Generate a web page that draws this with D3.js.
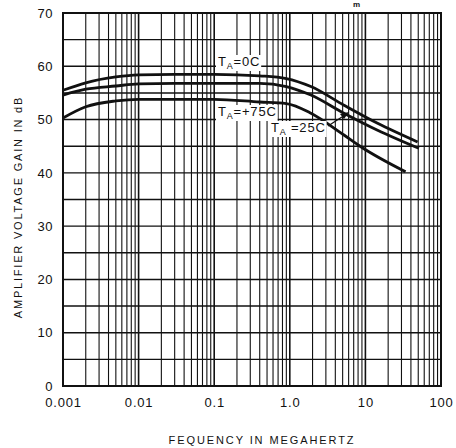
<!DOCTYPE html>
<html>
<head>
<meta charset="utf-8">
<script src="https://cdn.jsdelivr.net/npm/d3@7"></script>
<style>
  body { margin: 0; background: #fff; }
  svg { display: block; }
  text { font-family: "Liberation Sans", Arial, sans-serif; fill: #111; }
</style>
</head>
<body>
<svg width="456" height="448"></svg>
<script>
// frequency in MHz, gain in dB
const freq0C  = [0.001, 0.002, 0.005, 0.01, 0.03, 0.1, 0.4, 0.9, 1.9, 5.2, 14.5, 49];
const gain0C  = [55.5, 56.9, 58.0, 58.4, 58.5, 58.5, 58.2, 57.7, 56.2, 52.7, 49.3, 45.8];
const freq25C = [0.001, 0.002, 0.005, 0.01, 0.03, 0.1, 0.4, 0.9, 1.9, 5.2, 14.5, 51];
const gain25C = [54.6, 55.7, 56.3, 56.7, 56.8, 56.8, 56.8, 56.2, 54.6, 51.2, 48.0, 44.6];
const freq75C = [0.001, 0.002, 0.005, 0.01, 0.03, 0.1, 0.4, 0.9, 1.9, 5.2, 8.7, 34];
const gain75C = [50.3, 52.4, 53.5, 53.8, 53.8, 53.8, 53.3, 53.0, 51.2, 47.1, 44.9, 40.2];

const xTicks = [0.001, 0.01, 0.1, 1, 10, 100];
const xTickLabels = ["0.001", "0.01", "0.1", "1.0", "10", "100"];
const yTicks = [0, 10, 20, 30, 40, 50, 60, 70];

const svg = d3.select("svg");
const margin = {top: 13, right: 15, bottom: 62, left: 63},
      width = 456 - margin.left - margin.right,
      height = 448 - margin.top - margin.bottom;

const g = svg.append("g")
    .attr("transform", `translate(${margin.left},${margin.top})`);

const x = d3.scaleLog().domain([0.001, 100]).range([0, width]);
const y = d3.scaleLinear().domain([0, 70]).range([height, 0]);

// vertical grid: 1..9 in each decade
const decades = new Set(xTicks);
g.append("g").selectAll("line")
    .data(x.ticks())
    .enter().append("line")
    .attr("x1", d => x(d)).attr("x2", d => x(d))
    .attr("y1", 0).attr("y2", height)
    .attr("stroke", "#111")
    .attr("stroke-width", d => decades.has(d) ? 1.6 : 1.1);

// horizontal grid every 5 dB
g.append("g").selectAll("line")
    .data(d3.range(5, 70, 5))
    .enter().append("line")
    .attr("x1", 0).attr("x2", width)
    .attr("y1", d => y(d)).attr("y2", d => y(d))
    .attr("stroke", "#111")
    .attr("stroke-width", 1.4);

// frame
g.append("rect")
    .attr("width", width).attr("height", height)
    .attr("fill", "none").attr("stroke", "#111").attr("stroke-width", 2);

// axes labels
g.append("g")
    .attr("transform", `translate(0,${height})`)
    .call(d3.axisBottom(x).tickValues(xTicks).tickSize(0).tickPadding(12)
        .tickFormat((d, i) => xTickLabels[i]))
    .call(a => a.select(".domain").remove())
    .selectAll("text")
    .style("font-size", "13px").style("letter-spacing", "0.8px")
    .attr("font-family", null);

g.append("g")
    .call(d3.axisLeft(y).tickValues(yTicks).tickSize(0).tickPadding(10))
    .call(a => a.select(".domain").remove())
    .selectAll("text")
    .style("font-size", "13px").style("letter-spacing", "0.5px")
    .attr("font-family", null);

// curves
const line = d3.line()
    .x(d => x(d[0]))
    .y(d => y(d[1]))
    .curve(d3.curveMonotoneX);

const series = [
    [freq0C, gain0C],
    [freq25C, gain25C],
    [freq75C, gain75C]
];
g.selectAll(".curve")
    .data(series)
    .enter().append("path")
    .attr("class", "curve")
    .attr("d", s => line(s[0].map((f, i) => [f, s[1][i]])))
    .attr("fill", "none")
    .attr("stroke", "#111")
    .attr("stroke-width", 2.8);

// curve labels with white backing
function label(px, py, rest) {
    const t = svg.append("text")
        .attr("x", px).attr("y", py)
        .style("font-size", "13px").style("letter-spacing", "0.8px");
    t.append("tspan").text("T");
    t.append("tspan").attr("dy", 3).style("font-size", "9px").text("A");
    t.append("tspan").attr("dy", -3).text(rest);
    const b = t.node().getBBox();
    svg.insert("rect", () => t.node())
        .attr("x", b.x - 2).attr("y", b.y + 1)
        .attr("width", b.width + 3).attr("height", b.height - 1)
        .attr("fill", "#fff");
}
label(218, 66, "=0C");
label(218, 116, "=+75C");
label(271, 132, " =25C");

// arrow to the 25C curve
svg.append("line")
    .attr("x1", 328).attr("y1", 126).attr("x2", 345).attr("y2", 115)
    .attr("stroke", "#111").attr("stroke-width", 1.2);
svg.append("path")
    .attr("d", "M349,112 L340,114 L344,119 Z")
    .attr("fill", "#111");

// axis titles
svg.append("text")
    .attr("x", 262).attr("y", 444)
    .attr("text-anchor", "middle")
    .style("font-size", "11px").style("letter-spacing", "1.9px")
    .text("FEQUENCY IN MEGAHERTZ");

svg.append("text")
    .attr("transform", "translate(22,207) rotate(-90)")
    .attr("text-anchor", "middle")
    .style("font-size", "11px").style("letter-spacing", "1.8px")
    .text("AMPLIFIER VOLTAGE GAIN IN dB");

// fragment of a heading above the chart
svg.append("text")
    .attr("x", 353).attr("y", 7)
    .style("font-size", "8px").style("font-weight", "bold")
    .text("m");
</script>
</body>
</html>
